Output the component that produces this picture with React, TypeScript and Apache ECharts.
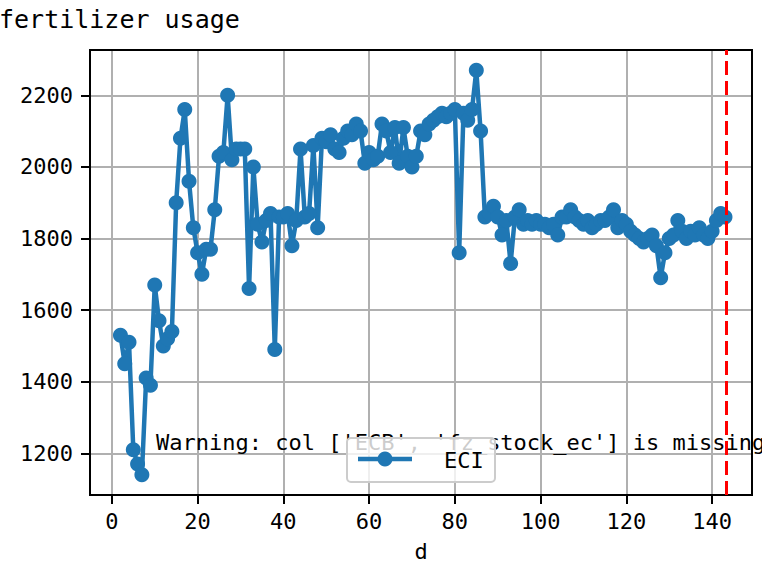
import React, { useEffect, useRef } from "react";
import * as echarts from "echarts";

const days = [
  2, 3, 4, 5, 6, 7, 8, 9, 10, 11, 12, 13, 14, 15, 16, 17, 18, 19, 20, 21,
  22, 23, 24, 25, 26, 27, 28, 29, 30, 31, 32, 33, 34, 35, 36, 37, 38, 39, 40, 41,
  42, 43, 44, 45, 46, 47, 48, 49, 50, 51, 52, 53, 54, 55, 56, 57, 58, 59, 60, 61,
  62, 63, 64, 65, 66, 67, 68, 69, 70, 71, 72, 73, 74, 75, 76, 77, 78, 79, 80, 81,
  82, 83, 84, 85, 86, 87, 88, 89, 90, 91, 92, 93, 94, 95, 96, 97, 98, 99, 100, 101,
  102, 103, 104, 105, 106, 107, 108, 109, 110, 111, 112, 113, 114, 115, 116, 117, 118, 119, 120, 121,
  122, 123, 124, 125, 126, 127, 128, 129, 130, 131, 132, 133, 134, 135, 136, 137, 138, 139, 140, 141,
  142, 143,
];

const eci = [
  1530, 1450, 1510, 1210, 1170, 1140, 1410, 1390, 1670, 1570, 1500, 1520, 1540, 1900, 2080, 2160, 1960, 1830, 1760, 1700,
  1770, 1770, 1880, 2030, 2040, 2200, 2020, 2050, 2050, 2050, 1660, 2000, 1840, 1790, 1850, 1870, 1490, 1860, 1860, 1870,
  1780, 1850, 2050, 1860, 1870, 2060, 1830, 2080, 2070, 2090, 2050, 2040, 2080, 2100, 2090, 2120, 2100, 2010, 2040, 2020,
  2030, 2120, 2100, 2040, 2110, 2010, 2110, 2030, 2000, 2030, 2100, 2090, 2120, 2130, 2140, 2150, 2140, 2150, 2160, 1760,
  2150, 2130, 2160, 2270, 2100, 1860, 1870, 1890, 1860, 1810, 1850, 1730, 1860, 1880, 1840, 1850, 1840, 1850, 1840, 1840,
  1830, 1840, 1810, 1860, 1860, 1880, 1860, 1850, 1840, 1850, 1830, 1840, 1850, 1850, 1860, 1880, 1830, 1850, 1840, 1820,
  1810, 1800, 1790, 1800, 1810, 1780, 1690, 1760, 1800, 1810, 1850, 1820, 1800, 1820, 1810, 1830, 1810, 1800, 1820, 1850,
  1870, 1860,
];

const xTicks = [0, 20, 40, 60, 80, 100, 120, 140];
const yTicks = [1200, 1400, 1600, 1800, 2000, 2200];
const cutoffDay = 143.2;
const titleText = "fertilizer usage";
const warningText = "Warning: col ['ECB', 'fz_stock_ec'] is missing";
const seriesName = "ECI";
const xName = "d";

const BLUE = "#1f77b4";
const FONT = "'DejaVu Sans Mono', 'Liberation Mono', monospace";

export default function App() {
  const ref = useRef<HTMLDivElement>(null);

  useEffect(() => {
    const chart = echarts.init(ref.current!, null, { renderer: "svg" });
    chart.setOption({
      animation: false,
      grid: {
        left: 90,
        right: 10,
        top: 50,
        bottom: 73,
        show: true,
        borderColor: "#000",
        borderWidth: 2,
        backgroundColor: "transparent",
        z: 5,
      },
      xAxis: {
        type: "value",
        min: -5.1,
        max: 149.3,
        splitNumber: 8,
        name: xName,
        nameLocation: "middle",
        nameGap: 45,
        nameTextStyle: { fontFamily: FONT, fontSize: 22, color: "#000" },
        axisLine: { show: true, onZero: false, lineStyle: { color: "#000", width: 2 } },
        axisTick: {
          show: true,
          inside: false,
          length: 9,
          customValues: xTicks,
          lineStyle: { color: "#000", width: 2 },
        },
        axisLabel: {
          customValues: xTicks,
          margin: 15,
          fontFamily: FONT,
          fontSize: 22,
          color: "#000",
          formatter: (v: number) => String(v),
        },
        splitLine: { show: true, lineStyle: { color: "#b0b0b0", width: 2 } },
      },
      yAxis: {
        type: "value",
        min: 1083.5,
        max: 2326.5,
        splitNumber: 6,
        axisLine: { show: true, onZero: false, lineStyle: { color: "#000", width: 2 } },
        axisTick: {
          show: true,
          inside: false,
          length: 9,
          customValues: yTicks,
          lineStyle: { color: "#000", width: 2 },
        },
        axisLabel: {
          customValues: yTicks,
          margin: 17,
          fontFamily: FONT,
          fontSize: 22,
          color: "#000",
          formatter: (v: number) => String(v),
        },
        splitLine: { show: true, lineStyle: { color: "#b0b0b0", width: 2 } },
      },
      series: [
        {
          type: "line",
          name: seriesName,
          data: days.map((d, i) => [d, eci[i]]),
          symbol: "circle",
          symbolSize: 15,
          showSymbol: true,
          itemStyle: { color: BLUE },
          lineStyle: { color: BLUE, width: 4.5 },
          markLine: {
            silent: true,
            symbol: ["none", "none"],
            label: { show: false },
            lineStyle: { color: "#ff0000", type: [14, 6], width: 3 },
            data: [{ xAxis: cutoffDay }],
          },
        },
      ],
      graphic: [
        {
          type: "text",
          z: 100,
          x: -1,
          y: 19,
          style: {
            text: titleText,
            font: `25px ${FONT}`,
            fill: "#000",
            textAlign: "left",
            textVerticalAlign: "middle",
          },
        },
        {
          type: "text",
          z: 100,
          x: 156,
          y: 442,
          style: {
            text: warningText,
            font: `22px ${FONT}`,
            fill: "#000",
            textAlign: "left",
            textVerticalAlign: "middle",
          },
        },
        {
          type: "group",
          z: 110,
          children: [
            {
              type: "rect",
              z: 110,
              shape: { x: 347, y: 438, width: 148, height: 44, r: 4 },
              style: { fill: "rgba(255,255,255,0.8)", stroke: "#cccccc", lineWidth: 2 },
            },
            {
              type: "line",
              z: 111,
              shape: { x1: 358, y1: 459, x2: 412, y2: 459 },
              style: { stroke: BLUE, lineWidth: 4.5 },
            },
            {
              type: "circle",
              z: 112,
              shape: { cx: 385, cy: 459, r: 7.5 },
              style: { fill: BLUE },
            },
            {
              type: "text",
              z: 112,
              x: 444,
              y: 460,
              style: {
                text: seriesName,
                font: `22px ${FONT}`,
                fill: "#000",
                textAlign: "left",
                textVerticalAlign: "middle",
              },
            },
          ],
        },
      ],
    });
    return () => chart.dispose();
  }, []);

  return (
    <div
      ref={ref}
      style={{ position: "absolute", left: 0, top: 0, width: 762, height: 568 }}
    />
  );
}
